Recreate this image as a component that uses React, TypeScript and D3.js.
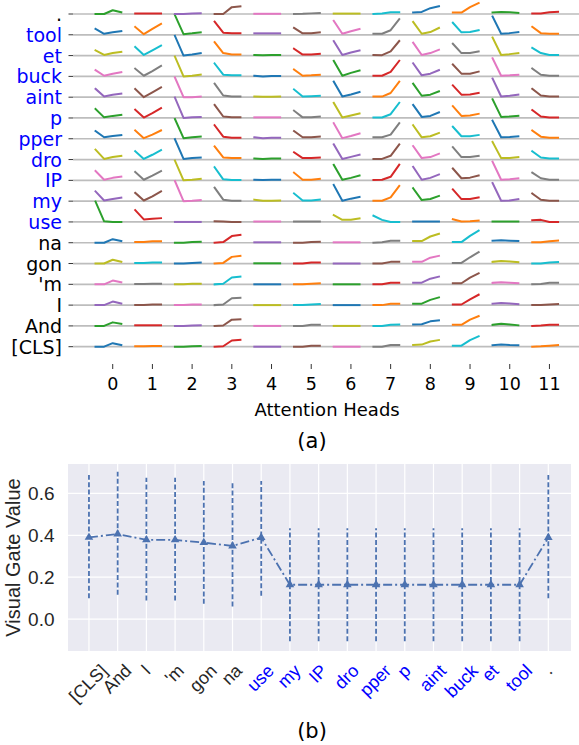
import React from "react";
import * as d3 from "d3";

const WIDTH = 579;
const HEIGHT = 745;

// tokens, bottom row of panel (a) first
const tokens = ["[CLS]", "And", "I", "'m", "gon", "na", "use", "my", "IP", "dro", "pper", "p", "aint", "buck", "et", "tool", "."];
const blueTokens = ["use", "my", "IP", "dro", "pper", "p", "aint", "buck", "et", "tool"];
const headLabels = ["0", "1", "2", "3", "4", "5", "6", "7", "8", "9", "10", "11"];

// attention curves, one array per token: 12 heads x 4 steps
const attnCLS = [[0, 0, 0.17, 0.08], [0.02, 0.02, 0.03, 0.03], [0, 0, 0.02, 0.03], [0, 0.02, 0.3, 0.33], [0, 0, 0, 0], [0, 0, 0.05, 0.05], [0, 0, 0, 0], [0, 0, 0.08, 0.08], [0.08, 0.1, 0.25, 0.32], [0.05, 0.05, 0.32, 0.5], [0.07, 0.1, 0.08, 0.07], [0, 0.02, 0.05, 0.08]];
const attnAnd = [[0, 0, 0.17, 0.1], [0.03, 0.03, 0.03, 0.03], [0, 0, 0.02, 0.03], [0, 0.02, 0.3, 0.32], [0, 0, 0, 0], [0, 0, 0.05, 0.05], [0, 0, 0, 0], [0, 0, 0.05, 0.07], [0.07, 0.08, 0.22, 0.27], [0.05, 0.05, 0.3, 0.47], [0.05, 0.1, 0.07, 0.03], [0, 0.02, 0.05, 0.05]];
const attnI = [[0, 0, 0.17, 0.08], [0, 0, 0.03, 0.03], [0, 0, 0.03, 0.03], [0, 0.03, 0.33, 0.35], [0, 0, 0, 0], [0, 0, 0.03, 0.05], [0, 0, 0, 0], [0, 0, 0.07, 0.07], [0.07, 0.07, 0.25, 0.37], [0.03, 0.03, 0.28, 0.5], [0.07, 0.1, 0.08, 0.05], [0, 0, 0.03, 0.05]];
const attnM = [[0, 0, 0.18, 0.1], [0.02, 0.02, 0.03, 0.03], [0, 0, 0.03, 0.03], [0, 0.03, 0.33, 0.37], [0, 0, 0, 0], [0, 0, 0.03, 0.05], [0, 0, 0, 0], [0, 0, 0.08, 0.08], [0.08, 0.08, 0.27, 0.37], [0.05, 0.05, 0.32, 0.53], [0.07, 0.1, 0.08, 0.05], [0, 0.02, 0.07, 0.07]];
const attnGon = [[0, 0, 0.18, 0.08], [0.02, 0.02, 0.05, 0.05], [0, 0, 0.03, 0.05], [0, 0.03, 0.32, 0.37], [0.01, 0.01, 0.01, 0.01], [0, 0, 0.05, 0.05], [0, 0, 0, 0], [0, 0, 0.08, 0.08], [0.08, 0.08, 0.28, 0.37], [0.03, 0.03, 0.3, 0.55], [0.08, 0.12, 0.1, 0.07], [0, 0, 0.05, 0.07]];
const attnNa = [[0, 0, 0.17, 0.08], [0.03, 0.03, 0.07, 0.07], [0, 0, 0.03, 0.05], [0, 0.03, 0.32, 0.38], [0.02, 0.02, 0.02, 0.02], [0, 0, 0.03, 0.05], [0.02, 0.02, 0.02, 0.02], [0, 0.02, 0.1, 0.1], [0.08, 0.08, 0.3, 0.43], [0.03, 0.03, 0.33, 0.58], [0.1, 0.12, 0.1, 0.08], [0.02, 0.02, 0.07, 0.1]];
const attnUse = [[0.98, 0.03, 0, 0], [0.57, 0.12, 0.15, 0.18], [0, 0, 0, 0], [0.03, 0.02, 0, 0], [0.02, 0.02, 0.02, 0.02], [0.02, 0.02, 0.02, 0.02], [0.33, 0.1, 0.1, 0.17], [0.3, 0.1, 0, 0], [0.02, 0.02, 0.02, 0.02], [0.13, 0.02, 0.03, 0.07], [0.02, 0.02, 0.02, 0.02], [0.08, 0.1, 0, 0]];
const attnMy = [[0.47, 0.03, 0.1, 0.17], [0.4, 0.03, 0.23, 0.47], [0.97, 0, 0.02, 0.05], [0.65, 0.07, 0.02, 0.02], [0.07, 0.02, 0.02, 0.03], [0.37, 0.03, 0.03, 0.07], [0.78, 0.02, 0.12, 0.2], [0.02, 0.02, 0.18, 0.73], [0.62, 0.05, 0.1, 0.25], [0.57, 0.1, 0.1, 0.18], [0.87, 0.02, 0.03, 0.1], [0.37, 0.07, 0.02, 0.02]];
const attnIP = [[0.45, 0.03, 0.12, 0.18], [0.4, 0.03, 0.23, 0.45], [0.95, 0, 0.03, 0.07], [0.63, 0.05, 0.02, 0.02], [0.03, 0.02, 0.03, 0.03], [0.37, 0.03, 0.03, 0.07], [0.75, 0.03, 0.12, 0.23], [0.02, 0.03, 0.17, 0.75], [0.65, 0.03, 0.12, 0.28], [0.57, 0.1, 0.13, 0.23], [0.9, 0.03, 0.05, 0.1], [0.37, 0.1, 0.03, 0.03]];
const attnDro = [[0.48, 0.03, 0.12, 0.18], [0.4, 0.03, 0.23, 0.45], [0.98, 0.03, 0.07, 0.1], [0.63, 0.1, 0.07, 0.07], [0.05, 0.03, 0.05, 0.05], [0.35, 0.07, 0.07, 0.1], [0.73, 0.03, 0.13, 0.23], [0.03, 0.03, 0.18, 0.73], [0.65, 0.07, 0.12, 0.28], [0.6, 0.12, 0.12, 0.18], [0.85, 0.07, 0.08, 0.12], [0.4, 0.1, 0.05, 0.05]];
const attnPper = [[0.37, 0.07, 0.13, 0.18], [0.4, 0.03, 0.2, 0.4], [0.95, 0.03, 0.07, 0.1], [0.65, 0.1, 0.05, 0.05], [0.07, 0.03, 0.05, 0.05], [0.37, 0.07, 0.07, 0.1], [0.75, 0.03, 0.13, 0.25], [0.07, 0.07, 0.2, 0.75], [0.65, 0.07, 0.12, 0.28], [0.58, 0.12, 0.12, 0.18], [0.87, 0.07, 0.08, 0.12], [0.4, 0.1, 0.05, 0.05]];
const attnP = [[0.43, 0.03, 0.1, 0.15], [0.4, 0.02, 0.23, 0.47], [0.98, 0, 0.03, 0.05], [0.63, 0.07, 0.03, 0.03], [0.03, 0.03, 0.03, 0.03], [0.35, 0.03, 0.03, 0.07], [0.73, 0.02, 0.12, 0.22], [0.02, 0.02, 0.18, 0.73], [0.63, 0.05, 0.1, 0.27], [0.57, 0.1, 0.12, 0.2], [0.9, 0.05, 0.07, 0.1], [0.38, 0.07, 0.02, 0.02]];
const attnAint = [[0.4, 0.03, 0.12, 0.17], [0.4, 0, 0.23, 0.47], [0.95, 0, 0, 0.03], [0.65, 0.08, 0.03, 0.03], [0.03, 0.02, 0.02, 0.03], [0.37, 0.03, 0.05, 0.07], [0.75, 0.03, 0.13, 0.25], [0.03, 0.03, 0.2, 0.75], [0.65, 0.07, 0.12, 0.28], [0.57, 0.12, 0.13, 0.2], [0.9, 0.03, 0.07, 0.12], [0.4, 0.08, 0.03, 0.03]];
const attnBuck = [[0.3, 0.03, 0.13, 0.2], [0.37, 0.03, 0.25, 0.5], [0.95, 0, 0.03, 0.08], [0.62, 0.08, 0.05, 0.05], [0.03, 0, 0.02, 0.02], [0.33, 0.03, 0.05, 0.08], [0.75, 0.03, 0.17, 0.28], [0.03, 0.03, 0.22, 0.75], [0.63, 0.05, 0.13, 0.3], [0.57, 0.13, 0.13, 0.23], [0.87, 0.03, 0.05, 0.08], [0.38, 0.08, 0.03, 0.03]];
const attnEt = [[0.25, 0.03, 0.12, 0.18], [0.42, 0.03, 0.25, 0.48], [0.95, 0, 0.05, 0.12], [0.65, 0.12, 0.05, 0.05], [0.03, 0.02, 0.03, 0.03], [0.33, 0.05, 0.05, 0.08], [0.7, 0.03, 0.15, 0.25], [0.03, 0.02, 0.2, 0.7], [0.62, 0.03, 0.12, 0.28], [0.57, 0.12, 0.12, 0.2], [0.87, 0.03, 0.07, 0.12], [0.37, 0.12, 0.03, 0.03]];
const attnTool = [[0.28, 0.05, 0.12, 0.18], [0.38, 0.03, 0.28, 0.52], [0.95, 0.03, 0.07, 0.12], [0.63, 0.1, 0.07, 0.07], [0.07, 0.07, 0.07, 0.07], [0.33, 0.07, 0.07, 0.12], [0.67, 0.05, 0.17, 0.28], [0.05, 0.05, 0.22, 0.75], [0.62, 0.05, 0.13, 0.33], [0.58, 0.12, 0.13, 0.22], [0.88, 0.05, 0.08, 0.13], [0.38, 0.08, 0.05, 0.05]];
const attnDot = [[0, 0, 0.18, 0.08], [0.02, 0.02, 0.03, 0.03], [0, 0, 0.02, 0.03], [0, 0, 0.33, 0.37], [0.01, 0.01, 0.01, 0.01], [0, 0.01, 0.03, 0.05], [0.02, 0.02, 0.02, 0.02], [0, 0.02, 0.08, 0.08], [0.07, 0.1, 0.28, 0.37], [0.07, 0.07, 0.33, 0.53], [0.07, 0.1, 0.08, 0.05], [0.02, 0.02, 0.08, 0.1]];

const attnRows = [attnCLS, attnAnd, attnI, attnM, attnGon, attnNa, attnUse, attnMy, attnIP, attnDro, attnPper, attnP, attnAint, attnBuck, attnEt, attnTool, attnDot];

// panel (b)
const gateMean = [0.39, 0.406, 0.378, 0.378, 0.365, 0.349, 0.389, 0.164, 0.164, 0.164, 0.164, 0.164, 0.164, 0.164, 0.164, 0.164, 0.389];
const gateLow = [0.1, 0.116, 0.089, 0.089, 0.073, 0.06, 0.112, -0.105, -0.105, -0.105, -0.105, -0.105, -0.105, -0.105, -0.105, -0.105, 0.1];
const gateHigh = [0.687, 0.703, 0.674, 0.674, 0.659, 0.648, 0.659, 0.433, 0.433, 0.433, 0.433, 0.433, 0.433, 0.433, 0.433, 0.433, 0.687];
const gateTicks = [0, 0.2, 0.4, 0.6];

const tab10 = d3.schemeCategory10;
const BLUE = "#0000ff";
const SEA = "#4C72B0";

// Arial / Liberation Sans advance widths (em)
const ARIAL: Record<string, number> = {
    "[": 0.278, "]": 0.278, "C": 0.722, "L": 0.556, "S": 0.667, "A": 0.667, "I": 0.278, "P": 0.667,
    "'": 0.191, ".": 0.278, "a": 0.556, "b": 0.556, "c": 0.5, "d": 0.556, "e": 0.556, "g": 0.556,
    "i": 0.222, "k": 0.5, "l": 0.222, "m": 0.833, "n": 0.556, "o": 0.556, "p": 0.556, "r": 0.333,
    "s": 0.5, "t": 0.278, "u": 0.556, "y": 0.5,
};
function arialWidth(t: string, size: number) {
    return t.split("").reduce((s, ch) => s + (ARIAL[ch] ?? 0.556), 0) * size;
}

export default function App() {
    // panel (a)
    const xTop = d3.scaleLinear().domain([-1, 11.8]).range([73, 581.2]);
    const yTop = d3.scaleLinear().domain([0, 16]).range([346.7, 14]);
    const step = d3.scaleLinear().domain([0, 3]).range([-0.433, 0.217]);
    const spark = d3.line<[number, number]>().x(d => d[0]).y(d => d[1]);

    // panel (b)
    const xBot = d3.scaleLinear().domain([-0.73, 16.79]).range([68, 571]);
    const yBot = d3.scaleLinear().domain([-0.152, 0.74]).range([651, 464]);
    const gateLine = d3.line<number>().x((d, i) => xBot(i)).y(d => yBot(d));
    const tri = d3.symbol(d3.symbolTriangle, 32)();

    const fTop = "DejaVu Sans";
    const fBot = "Liberation Sans, Arial, sans-serif";
    const xtSize = 18;
    const labelTop = 662;

    return (
        <svg width={WIDTH} height={HEIGHT} style={{ position: "absolute", left: 0, top: 0, background: "#fff" }}>
            {/* panel (a) grid rows */}
            {tokens.map((t, r) => (
                <g key={"row" + r}>
                    <line x1={xTop(-1)} x2={xTop(11.8)} y1={yTop(r)} y2={yTop(r)} stroke="#bdbdbd" strokeWidth={1.7} />
                    <line x1={xTop(-1) - 4.5} x2={xTop(-1)} y1={yTop(r)} y2={yTop(r)} stroke="#333" strokeWidth={1} />
                    <text x={62} y={yTop(r)} dy="0.37em" textAnchor="end" fontFamily={fTop} fontSize={19}
                        fill={blueTokens.includes(t) ? BLUE : "#000"}>{t}</text>
                </g>
            ))}
            {attnRows.map((row, r) =>
                row.map((vals, h) => (
                    <path key={`s${r}-${h}`}
                        d={spark(vals.map((v, k) => [xTop(h + step(k)), yTop(r + v)] as [number, number])) || ""}
                        fill="none" stroke={tab10[(r * 12 + h) % 10]} strokeWidth={2}
                        strokeLinejoin="round" strokeLinecap="square" />
                ))
            )}
            {headLabels.map((lab, h) => (
                <g key={"h" + h}>
                    <line x1={xTop(h)} x2={xTop(h)} y1={364} y2={369} stroke="#333" strokeWidth={1} />
                    <text x={xTop(h)} y={390} textAnchor="middle" fontFamily={fTop} fontSize={17.5} fill="#000">{lab}</text>
                </g>
            ))}
            <text x={(xTop(-1) + xTop(11.8)) / 2} y={416} textAnchor="middle" fontFamily={fTop} fontSize={18} fill="#000">Attention Heads</text>
            <text x={312} y={447.5} textAnchor="middle" fontFamily={fTop} fontSize={21} fill="#000">(a)</text>

            {/* panel (b) */}
            <rect x={68} y={464} width={503} height={187} fill="#EAEAF2" />
            {gateTicks.map(v => (
                <g key={"gy" + v}>
                    <line x1={68} x2={571} y1={yBot(v)} y2={yBot(v)} stroke="#fff" strokeWidth={1.2} />
                    <text x={54.5} y={yBot(v)} dy="0.36em" textAnchor="end" fontFamily={fBot} fontSize={19} fill="#262626">{v.toFixed(1)}</text>
                </g>
            ))}
            {tokens.map((t, i) => (
                <line key={"gx" + i} x1={xBot(i)} x2={xBot(i)} y1={464} y2={651} stroke="#fff" strokeWidth={1.2} />
            ))}
            <g transform={`translate(20,${(464 + 651) / 2}) rotate(-90)`}>
                <text textAnchor="middle" fontFamily={fBot} fontSize={20} fill="#262626">Visual Gate Value</text>
            </g>
            {gateMean.map((m, i) => (
                <line key={"eb" + i} x1={xBot(i)} x2={xBot(i)} y1={yBot(gateLow[i])} y2={yBot(gateHigh[i])}
                    stroke={SEA} strokeWidth={1.8} strokeDasharray="5,2.4" />
            ))}
            <path d={gateLine(gateMean) || ""} fill="none" stroke={SEA} strokeWidth={1.8} strokeDasharray="9,3,2,3" />
            {gateMean.map((m, i) => (
                <path key={"mk" + i} d={tri || ""} transform={`translate(${xBot(i)},${yBot(m)})`} fill={SEA} />
            ))}
            {tokens.map((t, i) => {
                // rotated label box: top edge aligned under the axis, centred on the tick
                const L = arialWidth(t, xtSize);
                const half = (L + xtSize) / (2 * Math.SQRT2);
                return (
                    <g key={"xl" + i} transform={`translate(${xBot(i)},${labelTop + half}) rotate(-45)`}>
                        <text dy="0.28em" textAnchor="middle" fontFamily={fBot} fontSize={xtSize}
                            fill={blueTokens.includes(t) ? BLUE : "#262626"}>{t}</text>
                    </g>
                );
            })}
            <text x={312} y={738} textAnchor="middle" fontFamily={fTop} fontSize={21} fill="#000">(b)</text>
        </svg>
    );
}
